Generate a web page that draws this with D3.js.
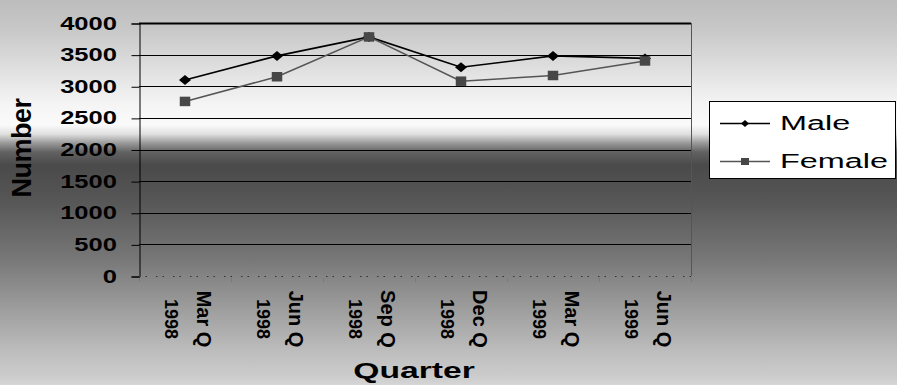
<!DOCTYPE html>
<html>
<head>
<meta charset="utf-8">
<script src="https://cdn.jsdelivr.net/npm/d3@7"></script>
<style>
  html, body { margin: 0; padding: 0; background: #fff; }
  svg { display: block; }
  text { font-family: "Liberation Sans", Arial, sans-serif; fill: #000; }
</style>
</head>
<body>
<svg id="chart" width="897" height="385"></svg>
<script>
// ---- data ----
const quarters = ["Mar Q", "Jun Q", "Sep Q", "Dec Q", "Mar Q", "Jun Q"];
const years = ["1998", "1998", "1998", "1998", "1999", "1999"];
const male = [3100, 3480, 3780, 3300, 3480, 3440];
const female = [2760, 3150, 3780, 3080, 3170, 3400];
const yTicks = [0, 500, 1000, 1500, 2000, 2500, 3000, 3500, 4000];
const seriesNames = ["Male", "Female"];

// ---- layout ----
const W = 897, H = 385;
const plot = { left: 139, right: 691, top: 23, bottom: 276 };
const svg = d3.select("#chart");

// background gradient
const defs = svg.append("defs");
const grad = defs.append("linearGradient").attr("id", "bg")
  .attr("x1", 0).attr("y1", 0).attr("x2", 0).attr("y2", 1);
[[0, "#bcbcbc"], [30, "#c8c8c8"], [70, "#e0e0e0"], [105, "#f5f5f5"], [125, "#fafafa"],
 [134, "#e0e0e0"], [143, "#9a9a9a"], [152, "#626262"], [165, "#4a4a4a"], [200, "#565656"],
 [260, "#787878"], [310, "#9e9e9e"], [350, "#bcbcbc"], [378, "#cdcdcd"], [385, "#d6d6d6"]]
  .forEach(([y, c]) => grad.append("stop").attr("offset", y / H).attr("stop-color", c));
svg.append("rect").attr("width", W).attr("height", H).attr("fill", "url(#bg)");

const x = d3.scaleBand().domain(d3.range(quarters.length)).range([plot.left, plot.right]);
const y = d3.scaleLinear().domain([0, 4000]).range([plot.bottom, plot.top]);
const cx = i => x(i) + x.bandwidth() / 2;

// gridlines
svg.append("g").selectAll("line").data(yTicks.filter(d => d > 0)).join("line")
  .attr("x1", plot.left).attr("x2", plot.right)
  .attr("y1", d => Math.round(y(d)) + 0.5).attr("y2", d => Math.round(y(d)) + 0.5)
  .attr("stroke", "#000").attr("stroke-width", d => d === 4000 ? 2 : 1);

// right border
svg.append("line").attr("x1", plot.right + 0.5).attr("x2", plot.right + 0.5)
  .attr("y1", plot.top).attr("y2", plot.bottom).attr("stroke", "#555").attr("stroke-width", 1);

// y axis
const yAxis = d3.axisLeft(y).tickValues(yTicks).tickSize(8).tickFormat("");
const gy = svg.append("g").attr("transform", `translate(${plot.left + 0.5},0.5)`).call(yAxis);
gy.select(".domain").attr("stroke", "#000");
gy.selectAll(".tick line").attr("stroke", "#000");

// y tick labels (stretched)
svg.append("g").selectAll("text").data(yTicks).join("text")
  .attr("transform", d => `translate(117,${y(d) + 6.5}) scale(1.42,1)`)
  .attr("text-anchor", "end").attr("font-weight", "bold").attr("font-size", 18)
  .text(d => d);

// x axis (dotted look)
svg.append("line").attr("x1", plot.left).attr("x2", plot.right)
  .attr("y1", plot.bottom + 0.5).attr("y2", plot.bottom + 0.5)
  .attr("stroke", "#333").attr("stroke-width", 1.2).attr("stroke-dasharray", "1.5,5,1.5,9");
const xb = d3.range(quarters.length + 1).map(i => plot.left + i * x.bandwidth());
svg.append("g").selectAll("line").data(xb).join("line")
  .attr("x1", d => d + 0.5).attr("x2", d => d + 0.5)
  .attr("y1", plot.bottom + 2).attr("y2", plot.bottom + 6)
  .attr("stroke", "#7a7a7a").attr("stroke-width", 1);

// x labels (rotated 90)
const xl = svg.append("g");
quarters.forEach((q, i) => {
  xl.append("text").attr("transform", `translate(${cx(i) + 12},319) rotate(90)`)
    .attr("text-anchor", "middle").attr("font-weight", "bold").attr("font-size", 20).text(q);
  xl.append("text").attr("transform", `translate(${cx(i) - 20},319) rotate(90)`)
    .attr("text-anchor", "middle").attr("font-weight", "bold").attr("font-size", 18).text(years[i]);
});

// axis titles
svg.append("text").attr("transform", "translate(31,148) rotate(-90)")
  .attr("text-anchor", "middle").attr("font-weight", "bold").attr("font-size", 27)
  .attr("letter-spacing", -0.5).text("Number");
svg.append("text").attr("transform", "translate(414,378) scale(1.53,1)")
  .attr("text-anchor", "middle").attr("font-weight", "bold").attr("font-size", 22).text("Quarter");

// marker shapes
const diamond = (w, h) => `M${-w / 2},0L0,${-h / 2}L${w / 2},0L0,${h / 2}Z`;
const square = (w, h) => `M${-w / 2},${-h / 2}h${w}v${h}h${-w}Z`;

// series
const line = d3.line().x((d, i) => cx(i)).y(d => y(d));
const styles = [
  { data: male, color: "#000", shape: diamond, mw: 12, mh: 10, lw: 8, lh: 7, mfill: "#000", width: 1.6 },
  { data: female, color: "#555", shape: square, mw: 10.5, mh: 9.5, lw: 8, lh: 7, mfill: "#474747", width: 1.5 }
];
styles.forEach(s => {
  svg.append("path").datum(s.data).attr("d", line).attr("fill", "none")
    .attr("stroke", s.color).attr("stroke-width", s.width);
});
styles.forEach(s => {
  svg.append("g").selectAll("path").data(s.data).join("path")
    .attr("transform", (d, i) => `translate(${cx(i)},${y(d)})`)
    .attr("d", s.shape(s.mw, s.mh)).attr("fill", s.mfill);
});

// legend
const lg = svg.append("g");
lg.append("rect").attr("x", 709.5).attr("y", 101.5).attr("width", 186).attr("height", 77)
  .attr("fill", "#fff").attr("stroke", "#000").attr("stroke-width", 1);
const ly = [123, 161];
seriesNames.forEach((n, i) => {
  const s = styles[i];
  lg.append("line").attr("x1", 720).attr("x2", 770).attr("y1", ly[i] + 0.5).attr("y2", ly[i] + 0.5)
    .attr("stroke", s.color).attr("stroke-width", 1.3);
  lg.append("path").attr("transform", `translate(745,${ly[i] + 0.5})`)
    .attr("d", s.shape(s.lw, s.lh)).attr("fill", s.mfill);
  lg.append("text").attr("transform", `translate(780,${ly[i] + 6.5}) scale(1.62,1)`)
    .attr("font-size", 20).text(n);
});
</script>
</body>
</html>
